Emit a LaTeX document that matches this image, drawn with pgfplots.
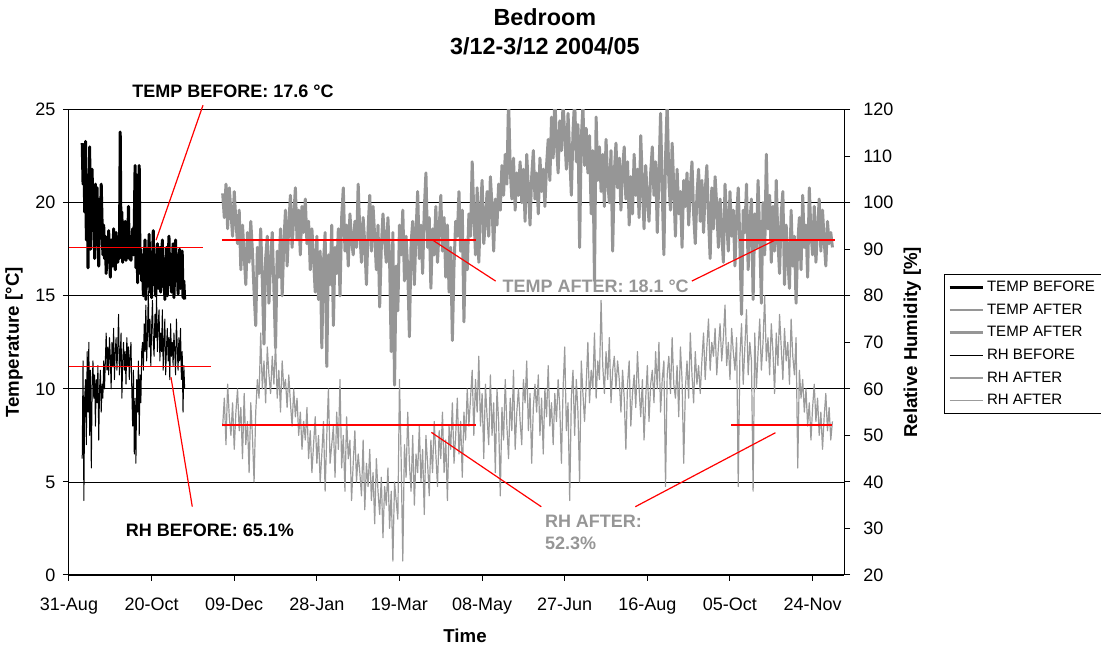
\documentclass[border=0pt]{standalone}
\usepackage{pgfplots}
\pgfplotsset{compat=1.18}
\usepackage{pgfplotstable}
\usepackage{fontspec}
\setmainfont{Liberation Sans}
\definecolor{gT}{RGB}{150,150,150}
\definecolor{gR}{RGB}{155,155,155}
\definecolor{rd}{RGB}{255,0,0}

% TEMP BEFORE, every half day from day 8 (31-Aug = day 0)
\pgfplotstableread[row sep=\\]{T\\
23.2\\21.0\\22.8\\19.5\\23.3\\18.0\\21.5\\16.5\\20.0\\23.0\\17.5\\19.0\\21.8\\
18.5\\20.5\\17.0\\21.0\\19.2\\20.8\\18.0\\16.6\\20.2\\18.6\\21.0\\19.0\\17.2\\18.8\\
17.0\\18.2\\16.2\\17.8\\16.8\\18.5\\17.2\\16.0\\18.0\\17.4\\16.6\\18.6\\17.0\\16.4\\18.4\\17.6\\16.8\\18.2\\17.0\\23.8\\
17.5\\19.5\\16.8\\18.5\\17.2\\19.0\\16.9\\18.4\\17.6\\19.8\\17.0\\18.2\\16.9\\17.8\\18.6\\17.2\\
18.8\\22.0\\16.5\\21.5\\15.7\\19.0\\22.0\\16.2\\17.5\\15.8\\
17.2\\15.0\\16.8\\18.0\\14.8\\17.5\\15.5\\16.6\\18.3\\15.2\\17.0\\14.9\\16.8\\18.5\\15.6\\17.2\\15.0\\16.4\\17.8\\15.4\\16.2\\17.6\\
15.2\\16.8\\18.0\\15.5\\17.0\\14.8\\16.2\\17.6\\15.0\\16.8\\18.2\\15.6\\17.0\\15.2\\16.6\\17.8\\14.9\\16.4\\18.0\\15.8\\17.2\\15.1\\16.9\\17.5\\15.4\\16.6\\17.4\\14.9\\15.8\\14.8\\
}\tb

% RH BEFORE, every half day from day 8
\pgfplotstableread[row sep=\\]{R\\
45\\66\\36\\58\\
62\\48\\68\\55\\70\\50\\64\\43\\60\\66\\
58\\63\\52\\62\\57\\65\\49\\60\\64\\55\\61\\58\\66\\60\\
66\\72\\64\\69\\63\\71\\67\\60\\70\\65\\73\\62\\68\\71\\64\\69\\76\\63\\67\\72\\58\\66\\70\\64\\68\\61\\71\\65\\69\\62\\67\\70\\
60\\52\\64\\46\\58\\44\\62\\55\\66\\50\\63\\57\\68\\
70\\64\\74\\68\\78\\66\\72\\81\\69\\75\\65\\73\\79\\70\\67\\76\\71\\80\\68\\74\\77\\66\\
72\\68\\77\\64\\70\\75\\63\\69\\73\\66\\71\\62\\74\\67\\70\\65\\72\\68\\63\\75\\69\\64\\71\\66\\73\\62\\68\\55\\65\\60\\
}\rb

% TEMP AFTER, daily from day 93
\pgfplotstableread[row sep=\\]{T\\
20.5\\19.2\\21.0\\18.6\\20.8\\19.5\\18.2\\20.6\\19.0\\17.8\\
19.6\\16.4\\18.8\\17.2\\15.6\\18.4\\16.8\\19.0\\17.4\\15.2\\
13.4\\17.6\\16.2\\18.6\\15.8\\12.4\\17.0\\18.2\\14.6\\16.8\\
18.4\\15.4\\12.2\\17.4\\16.0\\18.6\\15.0\\17.8\\19.6\\16.6\\
18.8\\20.4\\17.6\\19.2\\20.8\\18.0\\19.6\\17.2\\19.8\\18.4\\
20.2\\17.8\\19.0\\16.4\\18.6\\17.0\\15.2\\18.2\\14.8\\17.4\\
12.2\\16.8\\18.4\\11.2\\17.2\\15.6\\18.8\\13.4\\17.6\\16.2\\
18.6\\15.0\\19.2\\20.8\\17.4\\18.8\\16.6\\19.4\\18.0\\17.2\\
19.0\\17.6\\21.0\\18.4\\16.8\\19.2\\17.8\\15.6\\18.6\\20.4\\
17.4\\19.8\\18.2\\16.4\\18.8\\14.4\\17.6\\19.4\\18.0\\16.8\\
19.2\\17.0\\12.0\\18.4\\10.2\\16.6\\14.2\\18.8\\17.2\\19.6\\
15.8\\18.2\\16.4\\12.8\\17.8\\19.0\\15.6\\18.4\\20.6\\17.0\\
18.8\\16.2\\19.6\\21.6\\17.6\\19.2\\15.4\\18.6\\17.2\\19.8\\
16.8\\18.6\\20.4\\17.4\\19.2\\16.0\\18.8\\15.2\\17.6\\12.6\\
16.6\\19.0\\18.2\\20.6\\17.4\\19.6\\13.6\\18.0\\16.4\\19.4\\
18.2\\22.2\\19.4\\17.2\\20.8\\16.8\\19.6\\21.2\\17.8\\19.0\\
20.6\\18.2\\21.4\\19.8\\17.4\\20.2\\18.8\\21.0\\19.6\\22.0\\
20.4\\22.6\\21.0\\25.6\\21.8\\20.2\\22.4\\19.6\\21.6\\20.4\\
22.2\\20.0\\21.8\\19.0\\22.6\\20.8\\18.8\\21.4\\22.8\\20.2\\
21.6\\19.4\\22.4\\20.6\\21.8\\19.8\\22.0\\23.4\\21.2\\24.6\\
22.4\\25.8\\23.2\\21.6\\24.4\\22.8\\25.4\\23.6\\21.8\\24.8\\
22.6\\20.4\\23.8\\25.6\\22.2\\24.2\\17.6\\23.4\\25.2\\22.0\\
24.0\\21.6\\23.6\\19.4\\22.8\\15.8\\24.6\\21.2\\23.0\\20.6\\
22.6\\19.8\\23.4\\21.2\\20.0\\22.8\\17.4\\21.6\\23.2\\20.8\\
22.4\\19.6\\21.8\\23.0\\20.2\\22.2\\18.8\\21.4\\19.4\\22.6\\
20.4\\21.8\\19.2\\23.6\\21.0\\18.6\\22.0\\20.2\\19.0\\21.6\\
23.0\\20.4\\22.2\\18.4\\21.4\\24.8\\20.6\\17.2\\22.4\\25.4\\
21.2\\19.6\\23.2\\20.8\\18.2\\21.8\\19.4\\20.6\\17.6\\21.2\\
19.8\\21.6\\18.8\\20.8\\22.2\\19.4\\17.8\\20.4\\21.8\\19.0\\
21.2\\18.4\\20.6\\22.0\\19.2\\17.0\\20.8\\18.6\\21.4\\19.8\\
17.6\\20.2\\18.4\\16.8\\21.0\\19.0\\17.4\\20.6\\18.2\\19.6\\
16.6\\19.2\\20.8\\17.8\\14.0\\19.6\\18.4\\21.0\\16.4\\18.8\\
20.2\\14.8\\19.4\\17.6\\21.2\\18.2\\14.6\\20.0\\17.2\\22.6\\
18.6\\20.4\\16.8\\19.8\\17.4\\21.2\\18.0\\16.2\\19.4\\20.6\\
15.6\\18.8\\17.0\\15.4\\19.6\\16.6\\18.2\\14.6\\17.8\\19.2\\
16.4\\20.4\\17.6\\18.8\\16.0\\20.8\\18.4\\17.2\\19.8\\16.8\\
18.6\\20.2\\17.4\\19.6\\18.0\\16.6\\19.0\\17.8\\18.4\\17.6\\
}\ta

% RH AFTER, daily from day 93
\pgfplotstableread[row sep=\\]{R\\
52\\58\\48\\61\\54\\50\\57\\47\\55\\60\\
51\\56\\45\\59\\48\\53\\42\\57\\50\\40\\
55\\62\\58\\72\\60\\66\\57\\69\\63\\59\\
67\\61\\70\\58\\64\\55\\66\\60\\62\\56\\
63\\57\\52\\60\\54\\58\\50\\55\\47\\53\\
49\\56\\45\\51\\42\\48\\54\\44\\50\\40\\
46\\53\\38\\50\\60\\44\\48\\52\\41\\55\\
47\\62\\43\\50\\38\\54\\45\\49\\36\\44\\
51\\40\\46\\42\\37\\49\\34\\44\\39\\47\\
36\\42\\31\\45\\38\\33\\41\\28\\39\\35\\
43\\30\\38\\23\\40\\36\\32\\62\\45\\23\\
48\\41\\55\\44\\38\\50\\35\\46\\42\\52\\
40\\47\\33\\50\\44\\37\\49\\42\\53\\46\\
39\\51\\45\\55\\42\\49\\36\\52\\47\\57\\
44\\50\\58\\46\\53\\41\\55\\49\\60\\52\\
58\\64\\50\\62\\55\\67\\52\\59\\45\\61\\
54\\48\\63\\50\\57\\42\\60\\53\\37\\56\\
49\\62\\52\\45\\58\\51\\64\\47\\55\\60\\
53\\48\\62\\57\\66\\51\\59\\44\\56\\61\\
55\\63\\50\\58\\46\\60\\54\\65\\52\\57\\
48\\59\\53\\62\\56\\44\\60\\69\\51\\57\\
36\\58\\64\\50\\62\\55\\40\\66\\59\\53\\
61\\70\\57\\64\\60\\72\\58\\66\\62\\79\\
65\\59\\68\\62\\71\\57\\64\\67\\60\\66\\
62\\55\\64\\58\\47\\61\\66\\52\\59\\63\\
56\\68\\60\\54\\62\\49\\58\\65\\53\\61\\
64\\57\\68\\60\\70\\55\\62\\66\\39\\63\\
67\\59\\71\\61\\58\\65\\54\\69\\62\\44\\
60\\66\\58\\72\\63\\57\\68\\61\\65\\59\\
66\\72\\62\\69\\75\\64\\70\\67\\73\\63\\
69\\74\\66\\71\\78\\65\\70\\62\\73\\68\\
64\\71\\39\\67\\74\\61\\69\\77\\63\\70\\
66\\38\\72\\60\\68\\75\\64\\70\\80\\66\\
71\\63\\74\\68\\59\\72\\65\\76\\69\\62\\
73\\66\\70\\61\\75\\67\\63\\71\\43\\64\\
58\\62\\55\\60\\52\\57\\49\\56\\61\\53\\
58\\50\\55\\47\\54\\59\\51\\56\\49\\53\\
}\ra

\begin{document}
\begin{tikzpicture}
\useasboundingbox (-51.75pt,-54.75pt) rectangle (774pt,431.25pt);
\pgfplotsset{
  common/.style={
    scale only axis, width=581.25pt, height=349pt,
    xmin=0, xmax=469,
    tick align=outside, major tick length=4.5pt,
    tick style={black, line width=0.75pt},
    axis line style={black, line width=0.75pt},
    ticklabel style={font=\fontsize{13.5}{16}\selectfont},
    /pgf/number format/assume math mode=true,
    clip mode=individual,
    label style={font=\bfseries\fontsize{14}{17}\selectfont},
  }
}
\begin{axis}[common,
  ymin=0, ymax=25,
  axis x line*=bottom, axis y line*=left,
  xtick={0,50,...,450},
  xticklabels={31-Aug,20-Oct,09-Dec,28-Jan,19-Mar,08-May,27-Jun,16-Aug,05-Oct,24-Nov},
  xticklabel style={yshift=-9pt},
  yticklabel style={xshift=-2.25pt},
  ytick={0,5,...,25},
  ymajorgrids, grid style={black, line width=0.6pt},
  ylabel={Temperature [°C]},
  ylabel style={at={(axis description cs:-0.071,0.5)}, anchor=center},
  xlabel={Time},
  xlabel style={at={(axis description cs:0.511,-0.131)}, anchor=center},
  title={Bedroom\\3/12-3/12 2004/05},
  title style={at={(axis description cs:0.614,1.151)}, anchor=center, align=center,
    font=\bfseries\fontsize{17.5}{21.75}\selectfont},
]
\addplot[black, line width=2.25pt, line join=round] table[x expr=8+0.5*\coordindex, y=T]{\tb};
\addplot[gT, line width=2.25pt, line join=round] table[x expr=93+\coordindex, y=T]{\ta};
\addplot[rd, line width=1.2pt] coordinates {(0,17.6) (81,17.6)};
\addplot[rd, line width=1.2pt] coordinates {(92.5,18) (246.5,18)};
\addplot[rd, line width=1.2pt] coordinates {(405.7,18) (463.8,18)};
\draw[rd, line width=0.9pt] (axis cs:81.1,25.24) -- (axis cs:52.7,17.99);
\draw[rd, line width=0.9pt] (axis cs:219.9,18) -- (axis cs:258.2,15.79);
\draw[rd, line width=0.9pt] (axis cs:376.9,15.79) -- (axis cs:427.5,18);
\node[font=\bfseries\fontsize{13.5}{16}\selectfont, inner sep=0pt] at (axis cs:99.2,26.0) {TEMP BEFORE: 17.6 °C};
\node[gT, font=\bfseries\fontsize{13.5}{16}\selectfont, inner sep=0pt] at (axis cs:318.7,15.52) {TEMP AFTER: 18.1 °C};
\end{axis}

\begin{axis}[common,
  ymin=20, ymax=120,
  axis y line*=right, axis x line=none,
  ytick={20,30,...,120},
  yticklabel style={xshift=6.5pt},
  ylabel={Relative Humidity [\%]},
  ylabel style={at={(axis description cs:1.088,0.5)}, anchor=center},
  legend image code/.code={\draw[#1] (0pt,0pt) -- (25pt,0pt);},
  legend cell align=left,
  legend style={at={(axis description cs:1.129,0.6466)}, anchor=north west,
    draw=black, line width=0.6pt, fill=white,
    font=\fontsize{11.3}{13.5}\selectfont, row sep=3.65pt, inner xsep=3pt, inner ysep=3pt},
]
\addlegendimage{black, line width=2pt}
\addlegendimage{gT, line width=2pt}
\addlegendimage{gT, line width=2pt}
\addplot[black, line width=0.75pt, line join=round] table[x expr=8+0.5*\coordindex, y=R]{\rb};
\addplot[gR, line width=0.9pt, line join=round] table[x expr=93+\coordindex, y=R]{\ra};
\addlegendimage{gR, line width=0.75pt}
\addplot[rd, line width=1.2pt, forget plot] coordinates {(0,64.8) (85.7,64.8)};
\addplot[rd, line width=1.2pt, forget plot] coordinates {(92.5,52.2) (246,52.2)};
\addplot[rd, line width=1.2pt, forget plot] coordinates {(400.7,52.2) (461.6,52.2)};
\draw[rd, line width=0.9pt] (axis cs:61.7,62.5) -- (axis cs:74.6,34.7);
\draw[rd, line width=0.9pt] (axis cs:219.3,50.65) -- (axis cs:285.8,34.67);
\draw[rd, line width=0.9pt] (axis cs:342.7,34.67) -- (axis cs:427.5,50.57);
\node[font=\bfseries\fontsize{13.5}{16}\selectfont, inner sep=0pt] at (axis cs:85.3,29.67) {RH BEFORE: 65.1\%};
\node[gT, font=\bfseries\fontsize{13.5}{16}\selectfont, inner sep=0pt, anchor=west] at (axis cs:287.9,31.6) {RH AFTER:};
\node[gT, font=\bfseries\fontsize{13.5}{16}\selectfont, inner sep=0pt, anchor=west] at (axis cs:287.9,26.9) {52.3\%};
\legend{TEMP BEFORE, TEMP AFTER, TEMP AFTER, RH BEFORE, RH AFTER, RH AFTER}
\end{axis}
\end{tikzpicture}
\end{document}
